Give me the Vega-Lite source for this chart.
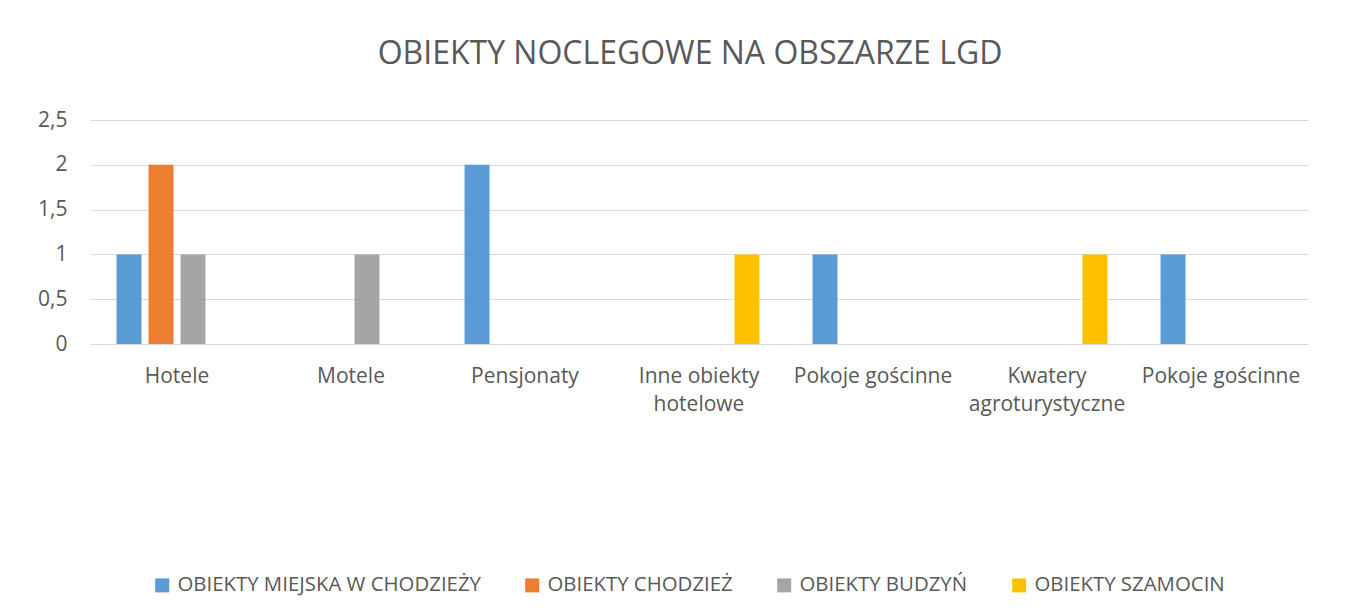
{
  "$schema": "https://vega.github.io/schema/vega-lite/v6.json",
  "width": 1218,
  "height": 224,
  "autosize": {"type": "none"},
  "padding": {"left": 90, "top": 120, "right": 52, "bottom": 272},
  "background": "white",
  "title": {
    "text": "OBIEKTY NOCLEGOWE NA OBSZARZE LGD",
    "font": "Open Sans",
    "fontSize": 32,
    "fontWeight": "normal",
    "color": "#595959",
    "anchor": "middle",
    "offset": 38,
    "dx": -9
  },
  "data": {
    "values": [
      {"nr": 0, "kategoria": "Hotele", "seria": "OBIEKTY MIEJSKA W CHODZIEŻY", "liczba": 1},
      {"nr": 0, "kategoria": "Hotele", "seria": "OBIEKTY CHODZIEŻ", "liczba": 2},
      {"nr": 0, "kategoria": "Hotele", "seria": "OBIEKTY BUDZYŃ", "liczba": 1},
      {"nr": 1, "kategoria": "Motele", "seria": "OBIEKTY BUDZYŃ", "liczba": 1},
      {"nr": 2, "kategoria": "Pensjonaty", "seria": "OBIEKTY MIEJSKA W CHODZIEŻY", "liczba": 2},
      {"nr": 3, "kategoria": "Inne obiekty hotelowe", "seria": "OBIEKTY SZAMOCIN", "liczba": 1},
      {"nr": 4, "kategoria": "Pokoje gościnne", "seria": "OBIEKTY MIEJSKA W CHODZIEŻY", "liczba": 1},
      {"nr": 5, "kategoria": "Kwatery agroturystyczne", "seria": "OBIEKTY SZAMOCIN", "liczba": 1},
      {"nr": 6, "kategoria": "Pokoje gościnne", "seria": "OBIEKTY MIEJSKA W CHODZIEŻY", "liczba": 1}
    ]
  },
  "mark": {"type": "bar"},
  "encoding": {
    "x": {
      "field": "nr",
      "type": "ordinal",
      "scale": {"domain": [0, 1, 2, 3, 4, 5, 6], "paddingInner": 0, "paddingOuter": 0},
      "axis": {
        "title": null,
        "labelAngle": 0,
        "domain": false,
        "ticks": false,
        "labelPadding": 21,
        "labelFont": "Open Sans",
        "labelFontSize": 21,
        "labelColor": "#595959",
        "labelLineHeight": 28,
        "labelLimit": 0,
        "labelExpr": "split(['Hotele','Motele','Pensjonaty','Inne obiekty|hotelowe','Pokoje gościnne','Kwatery|agroturystyczne','Pokoje gościnne'][datum.value], '|')"
      }
    },
    "xOffset": {
      "field": "seria",
      "type": "nominal",
      "scale": {
        "domain": ["OBIEKTY MIEJSKA W CHODZIEŻY", "OBIEKTY CHODZIEŻ", "OBIEKTY BUDZYŃ", "OBIEKTY SZAMOCIN"],
        "paddingInner": 0.22,
        "paddingOuter": 0.83
      }
    },
    "y": {
      "field": "liczba",
      "type": "quantitative",
      "scale": {"domain": [0, 2.5], "nice": false},
      "axis": {
        "title": null,
        "values": [0, 0.5, 1, 1.5, 2, 2.5],
        "labelExpr": "replace(format(datum.value, ''), '.', ',')",
        "domain": false,
        "ticks": false,
        "labelPadding": 23,
        "labelFont": "Open Sans",
        "labelFontSize": 21,
        "labelColor": "#595959",
        "gridColor": "#D9D9D9",
        "gridWidth": 1
      }
    },
    "color": {
      "field": "seria",
      "type": "nominal",
      "scale": {
        "domain": ["OBIEKTY MIEJSKA W CHODZIEŻY", "OBIEKTY CHODZIEŻ", "OBIEKTY BUDZYŃ", "OBIEKTY SZAMOCIN"],
        "range": ["#5B9BD5", "#ED7D31", "#A5A5A5", "#FFC000"]
      },
      "legend": {
        "title": null,
        "orient": "none",
        "direction": "horizontal",
        "legendX": 62,
        "legendY": 455,
        "symbolType": "square",
        "symbolSize": 196,
        "symbolStrokeWidth": 0,
        "labelOffset": 5,
        "columnPadding": 41,
        "labelLimit": 0,
        "labelFont": "Open Sans",
        "labelFontSize": 20.4,
        "labelColor": "#595959"
      }
    }
  },
  "config": {
    "view": {"stroke": null}
  }
}
